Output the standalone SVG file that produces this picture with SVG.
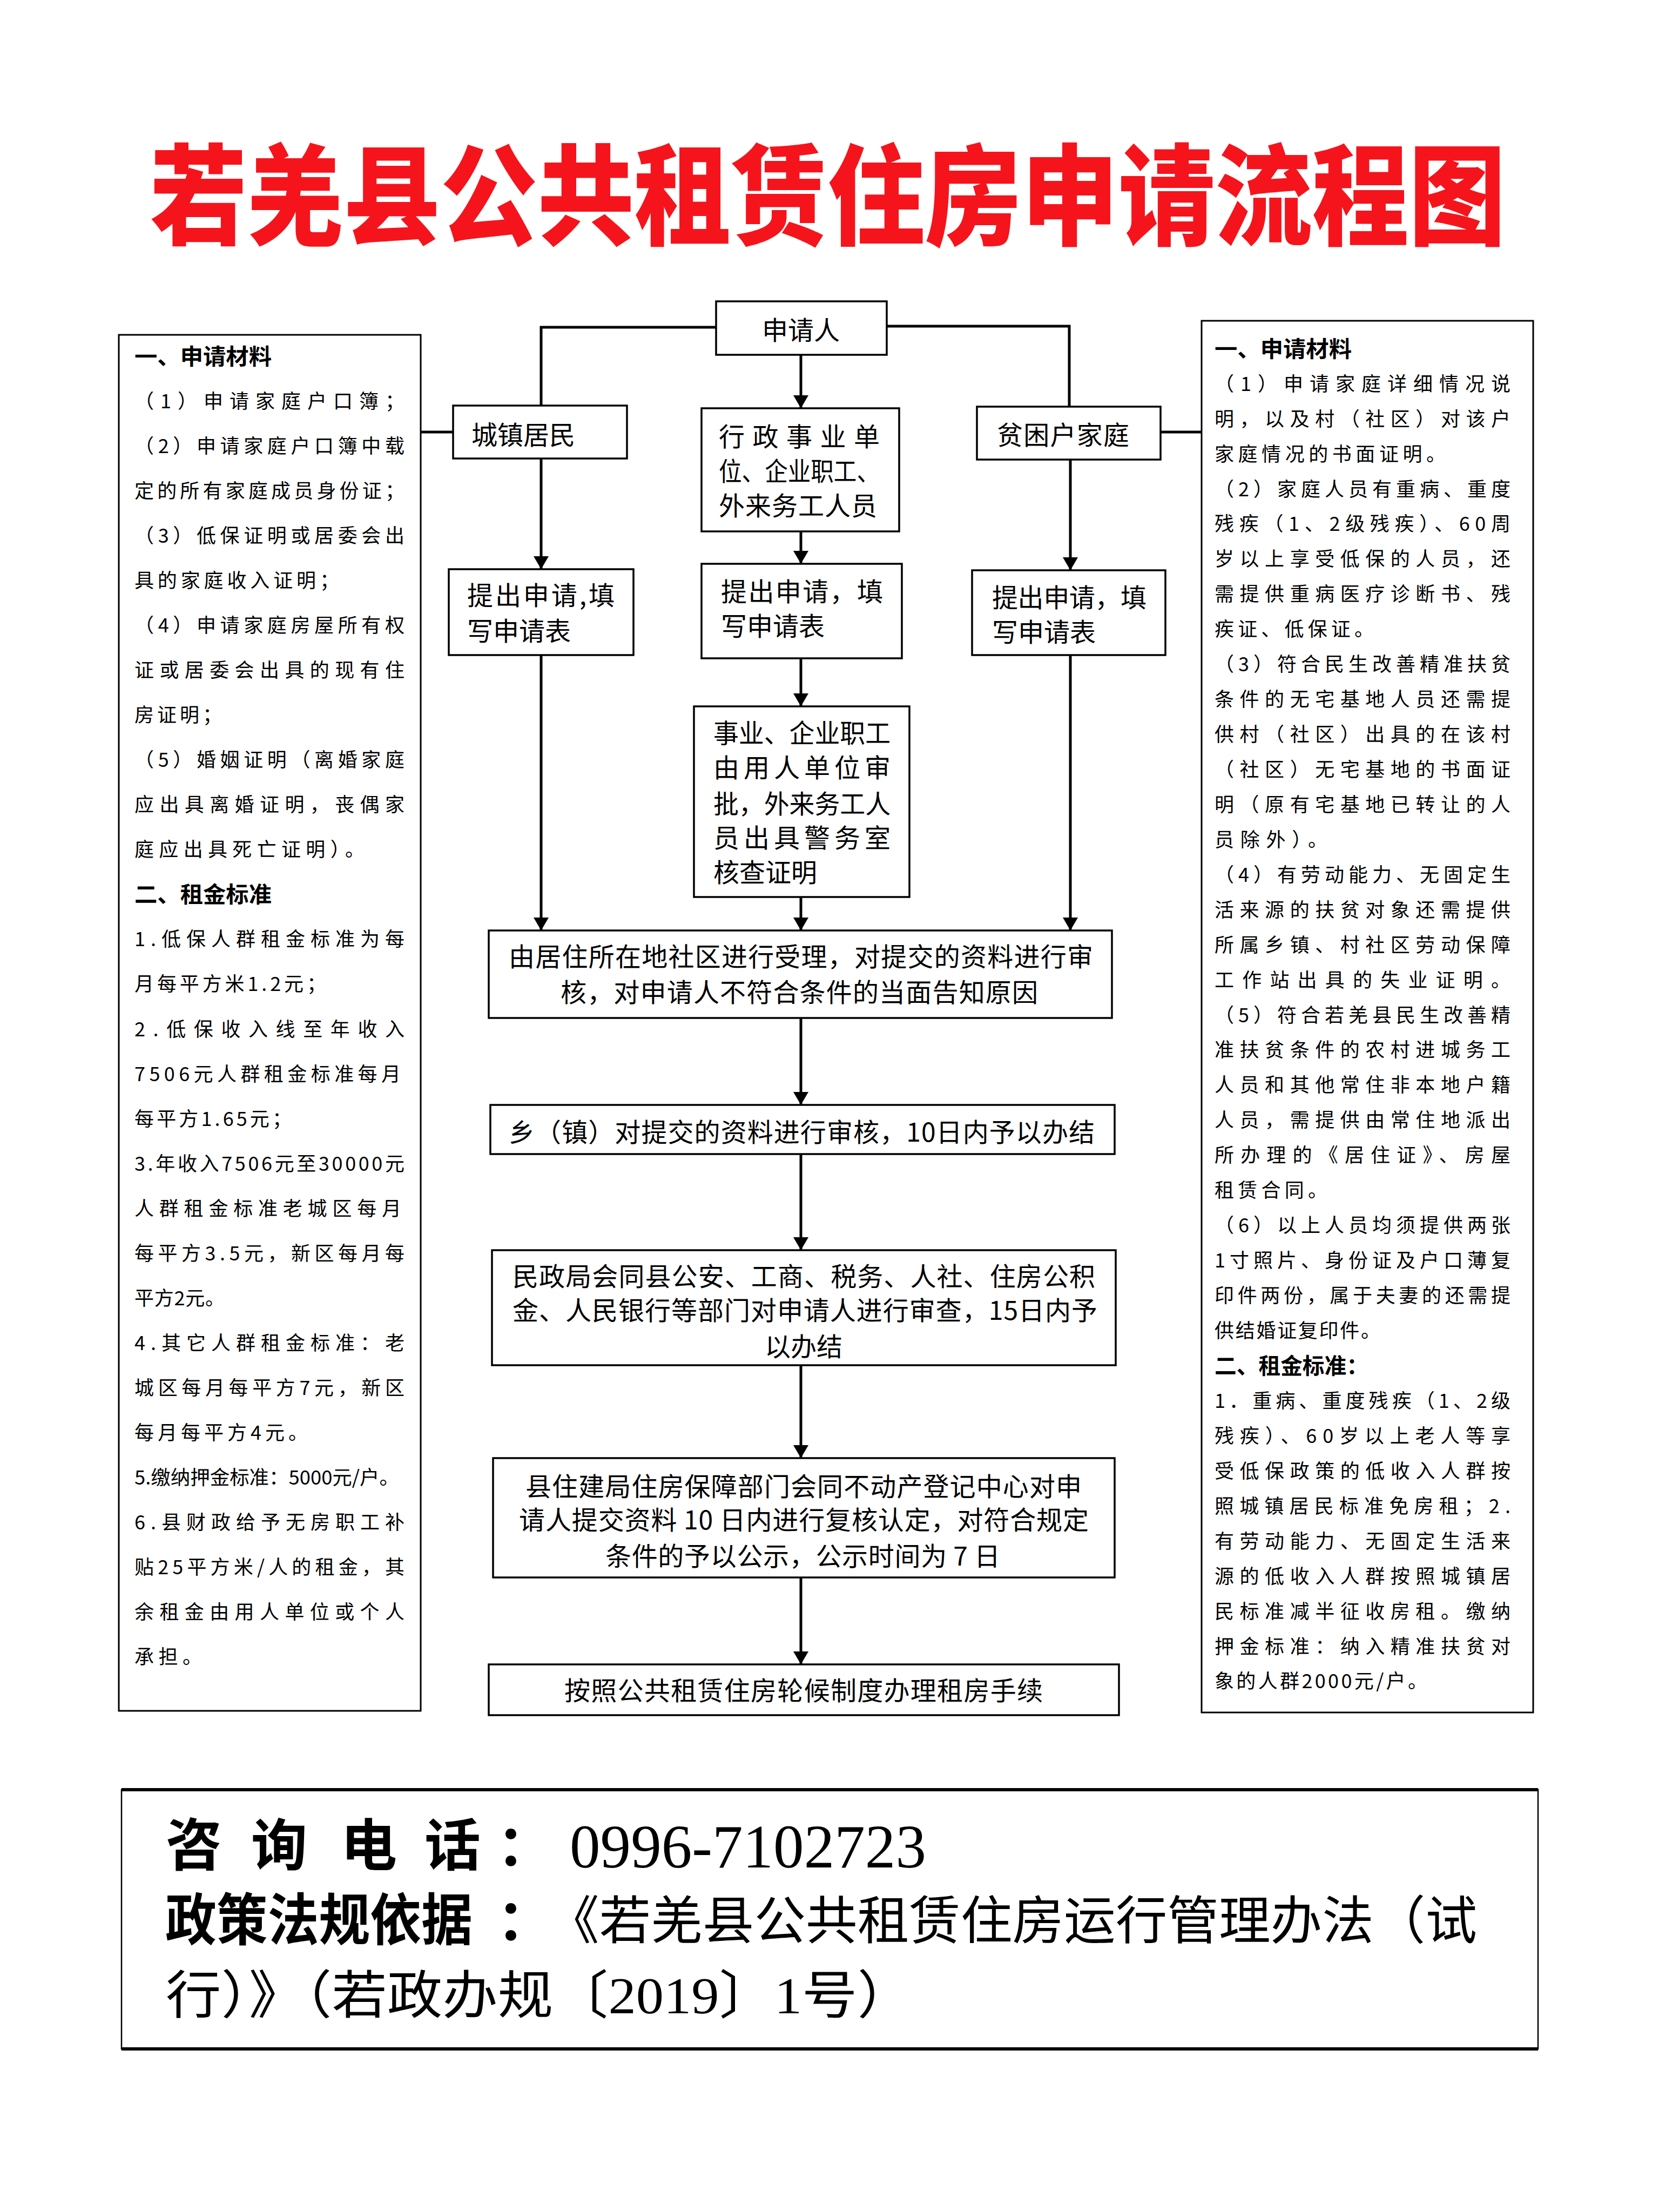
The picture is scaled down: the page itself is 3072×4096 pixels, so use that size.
<svg xmlns="http://www.w3.org/2000/svg" width="3072" height="4096" viewBox="0 0 3072 4096">
<defs>
<style>
.box{fill:#fff;stroke:#000;stroke-width:3.5}
.panel{fill:#fff;stroke:#000;stroke-width:3}
.conn{fill:none;stroke:#000;stroke-width:5}
.t{font-family:"Noto Sans CJK SC","Noto Sans CJK JP",sans-serif;font-size:48px;fill:#000}
.p{font-family:"Noto Sans CJK SC","Noto Sans CJK JP",sans-serif;font-size:36px;fill:#000}
.ph{font-family:"Noto Sans CJK SC","Noto Sans CJK JP",sans-serif;font-size:41px;font-weight:bold;fill:#000}
.title{font-family:"Noto Sans CJK SC","Noto Sans CJK JP",sans-serif;font-size:180px;font-weight:900;fill:#f5141c}
.bb{font-family:"Noto Sans CJK SC","Noto Sans CJK JP",sans-serif;font-size:104px;font-weight:bold;fill:#000}
.bl{font-family:"Liberation Serif","Noto Sans CJK SC",serif;font-size:96px;fill:#000}
.num{font-family:"Liberation Serif",serif;font-size:114px;fill:#000}
</style>
<marker id="arr" viewBox="0 0 24 28" refX="24" refY="14" markerWidth="24" markerHeight="28" markerUnits="userSpaceOnUse" orient="auto">
<path d="M0,0 L24,14 L0,28 z" fill="#000"/>
</marker>
</defs>
<rect width="3072" height="4096" fill="#fff"/>

<text id="title" class="title" transform="translate(278,438) scale(1,1.13)" x="0" y="0" textLength="2510" lengthAdjust="spacingAndGlyphs">若羌县公共租赁住房申请流程图</text>

<g id="connectors">
<polyline class="conn" points="1326,606 1002,606 1002,751"/>
<polyline class="conn" points="1642,604 1980,604 1980,753"/>
<line class="conn" x1="1483" y1="657" x2="1483" y2="756" marker-end="url(#arr)"/>
<line class="conn" x1="779" y1="800" x2="839" y2="800"/>
<line class="conn" x1="2149" y1="800" x2="2225" y2="800"/>
<line class="conn" x1="1002" y1="849" x2="1002" y2="1054" marker-end="url(#arr)"/>
<line class="conn" x1="1483" y1="984" x2="1483" y2="1044" marker-end="url(#arr)"/>
<line class="conn" x1="1982" y1="851" x2="1982" y2="1056" marker-end="url(#arr)"/>
<line class="conn" x1="1002" y1="1213" x2="1002" y2="1723" marker-end="url(#arr)"/>
<line class="conn" x1="1483" y1="1219" x2="1483" y2="1308" marker-end="url(#arr)"/>
<line class="conn" x1="1483" y1="1661" x2="1483" y2="1723" marker-end="url(#arr)"/>
<line class="conn" x1="1982" y1="1213" x2="1982" y2="1723" marker-end="url(#arr)"/>
<line class="conn" x1="1483" y1="1885" x2="1483" y2="2046" marker-end="url(#arr)"/>
<line class="conn" x1="1483" y1="2137" x2="1483" y2="2315" marker-end="url(#arr)"/>
<line class="conn" x1="1483" y1="2528" x2="1483" y2="2700" marker-end="url(#arr)"/>
<line class="conn" x1="1483" y1="2921" x2="1483" y2="3082" marker-end="url(#arr)"/>
</g>

<g id="left-panel">
<rect class="panel" x="220" y="620" width="559" height="2548"/>
<text class="ph" x="249" y="675" textLength="254" lengthAdjust="spacingAndGlyphs">一、申请材料</text>
<text class="p" x="249" y="756" textLength="500">（1）申请家庭户口簿；</text>
<text class="p" x="249" y="839" textLength="500">（2）申请家庭户口簿中载</text>
<text class="p" x="249" y="922" textLength="500">定的所有家庭成员身份证；</text>
<text class="p" x="249" y="1005" textLength="500">（3）低保证明或居委会出</text>
<text class="p" x="249" y="1088" textLength="379">具的家庭收入证明；</text>
<text class="p" x="249" y="1171" textLength="500">（4）申请家庭房屋所有权</text>
<text class="p" x="249" y="1254" textLength="500">证或居委会出具的现有住</text>
<text class="p" x="249" y="1337" textLength="162">房证明；</text>
<text class="p" x="249" y="1420" textLength="500">（5）婚姻证明（离婚家庭</text>
<text class="p" x="249" y="1503" textLength="500">应出具离婚证明，丧偶家</text>
<text class="p" x="249" y="1586" textLength="426">庭应出具死亡证明）。</text>
<text class="ph" x="249" y="1671" textLength="254" lengthAdjust="spacingAndGlyphs">二、租金标准</text>
<text class="p" x="249" y="1752" textLength="500">1.低保人群租金标准为每</text>
<text class="p" x="249" y="1835" textLength="355">月每平方米1.2元；</text>
<text class="p" x="249" y="1919" textLength="500">2.低保收入线至年收入</text>
<text class="p" x="249" y="2002" textLength="493">7506元人群租金标准每月</text>
<text class="p" x="249" y="2085" textLength="291">每平方1.65元；</text>
<text class="p" x="249" y="2168" textLength="500">3.年收入7506元至30000元</text>
<text class="p" x="249" y="2251" textLength="494">人群租金标准老城区每月</text>
<text class="p" x="249" y="2334" textLength="500">每平方3.5元，新区每月每</text>
<text class="p" x="249" y="2417" textLength="167">平方2元。</text>
<text class="p" x="249" y="2500" textLength="500">4.其它人群租金标准：老</text>
<text class="p" x="249" y="2583" textLength="500">城区每月每平方7元，新区</text>
<text class="p" x="249" y="2666" textLength="321">每月每平方4元。</text>
<text class="p" x="249" y="2749" textLength="490" lengthAdjust="spacingAndGlyphs">5.缴纳押金标准：5000元/户。</text>
<text class="p" x="249" y="2832" textLength="500">6.县财政给予无房职工补</text>
<text class="p" x="249" y="2915" textLength="500">贴25平方米/人的租金，其</text>
<text class="p" x="249" y="2998" textLength="500">余租金由用人单位或个人</text>
<text class="p" x="249" y="3081" textLength="125">承担。</text>
</g>

<g id="right-panel">
<rect class="panel" x="2225" y="594" width="614" height="2577"/>
<text class="ph" x="2249" y="661" textLength="254" lengthAdjust="spacingAndGlyphs">一、申请材料</text>
<text class="p" x="2249" y="724" textLength="548">（1）申请家庭详细情况说</text>
<text class="p" x="2249" y="789" textLength="548">明，以及村（社区）对该户</text>
<text class="p" x="2249" y="854" textLength="428">家庭情况的书面证明。</text>
<text class="p" x="2249" y="919" textLength="548">（2）家庭人员有重病、重度</text>
<text class="p" x="2249" y="983" textLength="548">残疾（1、2级残疾）、60周</text>
<text class="p" x="2249" y="1048" textLength="548">岁以上享受低保的人员，还</text>
<text class="p" x="2249" y="1113" textLength="548">需提供重病医疗诊断书、残</text>
<text class="p" x="2249" y="1178" textLength="295">疾证、低保证。</text>
<text class="p" x="2249" y="1243" textLength="548">（3）符合民生改善精准扶贫</text>
<text class="p" x="2249" y="1308" textLength="548">条件的无宅基地人员还需提</text>
<text class="p" x="2249" y="1373" textLength="548">供村（社区）出具的在该村</text>
<text class="p" x="2249" y="1438" textLength="548">（社区）无宅基地的书面证</text>
<text class="p" x="2249" y="1503" textLength="548">明（原有宅基地已转让的人</text>
<text class="p" x="2249" y="1568" textLength="209">员除外）。</text>
<text class="p" x="2249" y="1633" textLength="548">（4）有劳动能力、无固定生</text>
<text class="p" x="2249" y="1698" textLength="548">活来源的扶贫对象还需提供</text>
<text class="p" x="2249" y="1763" textLength="548">所属乡镇、村社区劳动保障</text>
<text class="p" x="2249" y="1828" textLength="548">工作站出具的失业证明。</text>
<text class="p" x="2249" y="1893" textLength="548">（5）符合若羌县民生改善精</text>
<text class="p" x="2249" y="1957" textLength="548">准扶贫条件的农村进城务工</text>
<text class="p" x="2249" y="2022" textLength="548">人员和其他常住非本地户籍</text>
<text class="p" x="2249" y="2087" textLength="548">人员，需提供由常住地派出</text>
<text class="p" x="2249" y="2152" textLength="548">所办理的《居住证》、房屋</text>
<text class="p" x="2249" y="2217" textLength="209">租赁合同。</text>
<text class="p" x="2249" y="2282" textLength="548">（6）以上人员均须提供两张</text>
<text class="p" x="2249" y="2347" textLength="548">1寸照片、身份证及户口薄复</text>
<text class="p" x="2249" y="2412" textLength="548">印件两份，属于夫妻的还需提</text>
<text class="p" x="2249" y="2477" textLength="307">供结婚证复印件。</text>
<text class="ph" x="2249" y="2544" textLength="285" lengthAdjust="spacingAndGlyphs">二、租金标准：</text>
<text class="p" x="2249" y="2607" textLength="548">1．重病、重度残疾（1、2级</text>
<text class="p" x="2249" y="2672" textLength="548">残疾）、60岁以上老人等享</text>
<text class="p" x="2249" y="2737" textLength="548">受低保政策的低收入人群按</text>
<text class="p" x="2249" y="2802" textLength="548">照城镇居民标准免房租；2.</text>
<text class="p" x="2249" y="2867" textLength="548">有劳动能力、无固定生活来</text>
<text class="p" x="2249" y="2932" textLength="548">源的低收入人群按照城镇居</text>
<text class="p" x="2249" y="2997" textLength="548">民标准减半征收房租。缴纳</text>
<text class="p" x="2249" y="3062" textLength="548">押金标准：纳入精准扶贫对</text>
<text class="p" x="2249" y="3126" textLength="394">象的人群2000元/户。</text>
</g>

<g id="n-applicant">
<rect class="box" x="1326" y="558" width="316" height="99"/>
<text class="t" x="1483" y="629" font-size="46" text-anchor="middle">申请人</text>
</g>
<g id="n-urban">
<rect class="box" x="839" y="751" width="322" height="98"/>
<text class="t" x="873" y="823">城镇居民</text>
</g>
<g id="n-staff">
<rect class="box" x="1299" y="756" width="366" height="228"/>
<text class="t" x="1331" y="826" textLength="298">行政事业单</text>
<text class="t" x="1331" y="890" textLength="298" lengthAdjust="spacingAndGlyphs">位、企业职工、</text>
<text class="t" x="1331" y="954" textLength="293">外来务工人员</text>
</g>
<g id="n-poor">
<rect class="box" x="1809" y="753" width="340" height="98"/>
<text class="t" x="1846" y="823" textLength="245">贫困户家庭</text>
</g>
<g id="n-apply-left">
<rect class="box" x="831" y="1054" width="342" height="159"/>
<text class="t" x="865" y="1120" textLength="273">提出申请,填</text>
<text class="t" x="865" y="1186">写申请表</text>
</g>
<g id="n-apply-mid">
<rect class="box" x="1299" y="1044" width="371" height="175"/>
<text class="t" x="1335" y="1113" textLength="300">提出申请，填</text>
<text class="t" x="1335" y="1177">写申请表</text>
</g>
<g id="n-apply-right">
<rect class="box" x="1800" y="1056" width="358" height="157"/>
<text class="t" x="1837" y="1124" textLength="286">提出申请，填</text>
<text class="t" x="1837" y="1188">写申请表</text>
</g>
<g id="n-employer">
<rect class="box" x="1285" y="1308" width="399" height="353"/>
<text class="t" x="1321" y="1375" textLength="328" lengthAdjust="spacingAndGlyphs">事业、企业职工</text>
<text class="t" x="1321" y="1439" textLength="328">由用人单位审</text>
<text class="t" x="1321" y="1506" textLength="328" lengthAdjust="spacingAndGlyphs">批，外来务工人</text>
<text class="t" x="1321" y="1569" textLength="328">员出具警务室</text>
<text class="t" x="1321" y="1633">核查证明</text>
</g>
<g id="n-community">
<rect class="box" x="905" y="1723" width="1154" height="162"/>
<text class="t" x="942" y="1789" textLength="1082">由居住所在地社区进行受理，对提交的资料进行审</text>
<text class="t" x="1038" y="1855" textLength="884">核，对申请人不符合条件的当面告知原因</text>
</g>
<g id="n-township">
<rect class="box" x="908" y="2046" width="1156" height="91"/>
<text class="t" x="942" y="2114" textLength="1085">乡（镇）对提交的资料进行审核，10日内予以办结</text>
</g>
<g id="n-civil">
<rect class="box" x="911" y="2315" width="1155" height="213"/>
<text class="t" x="949" y="2381" textLength="1079">民政局会同县公安、工商、税务、人社、住房公积</text>
<text class="t" x="949" y="2444" textLength="1083">金、人民银行等部门对申请人进行审查，15日内予</text>
<text class="t" x="1488" y="2511" text-anchor="middle">以办结</text>
</g>
<g id="n-housing">
<rect class="box" x="913" y="2700" width="1151" height="221"/>
<text class="t" x="973" y="2770" textLength="1030">县住建局住房保障部门会同不动产登记中心对申</text>
<text class="t" x="961" y="2832" textLength="1055">请人提交资料 10 日内进行复核认定，对符合规定</text>
<text class="t" x="1121" y="2899" textLength="731">条件的予以公示，公示时间为 7 日</text>
</g>
<g id="n-final">
<rect class="box" x="905" y="3082" width="1167" height="94"/>
<text class="t" x="1045" y="3148" textLength="886">按照公共租赁住房轮候制度办理租房手续</text>
</g>

<g id="footer">
<rect x="225" y="3314" width="2623" height="480" fill="#fff" stroke="#000" stroke-width="2.5"/>
<line x1="225" y1="3314" x2="2848" y2="3314" stroke="#000" stroke-width="6"/>
<line x1="225" y1="3794" x2="2848" y2="3794" stroke="#000" stroke-width="6"/>
<text class="bb" x="307" y="3455">咨</text>
<text class="bb" x="465" y="3455">询</text>
<text class="bb" x="631" y="3455">电</text>
<text class="bb" x="786" y="3455">话</text>
<text class="bb" x="920" y="3455">：</text>
<text class="num" x="1055" y="3458" textLength="660" lengthAdjust="spacingAndGlyphs">0996-7102723</text>
<text class="bb" x="306" y="3593" textLength="569" lengthAdjust="spacingAndGlyphs">政策法规依据</text>
<text class="bb" x="920" y="3593">：</text>
<text class="bl" x="1014" y="3590" textLength="1721" lengthAdjust="spacingAndGlyphs">《若羌县公共租赁住房运行管理办法（试</text>
<text class="bl" x="307" y="3728" textLength="1383" lengthAdjust="spacingAndGlyphs">行）》（若政办规〔2019〕1号）</text>
</g>
</svg>
